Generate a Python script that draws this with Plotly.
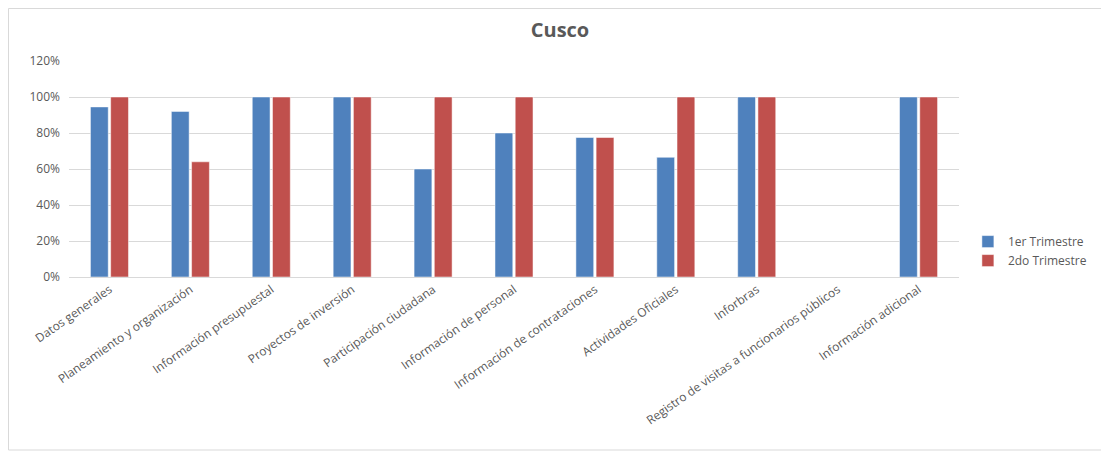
import plotly.graph_objects as go

categories = [
    "Datos generales",
    "Planeamiento y organización",
    "Información presupuestal",
    "Proyectos de inversión",
    "Participación ciudadana",
    "Información de personal",
    "Información de contrataciones",
    "Actividades Oficiales",
    "Inforbras",
    "Registro de visitas a funcionarios públicos",
    "Información adicional",
]
trim1 = [0.945, 0.92, 1.0, 1.0, 0.60, 0.80, 0.775, 0.665, 1.0, 0.0, 1.0]
trim2 = [1.0, 0.64, 1.0, 1.0, 1.0, 1.0, 0.775, 1.0, 1.0, 0.0, 1.0]
series_names = ["1er Trimestre", "2do Trimestre"]
y_ticks = [0, 0.2, 0.4, 0.6, 0.8, 1.0, 1.2]

font_family = "Open Sans, Liberation Sans, sans-serif"
grey = "#595959"

L, R, T, B = 61, 158, 53, 185
PW = 1109 - L - R
PH = 454 - T - B

fig = go.Figure()
fig.add_trace(go.Bar(x=categories, y=trim1, name=series_names[0],
                     marker=dict(color="#4F81BD", line=dict(color="white", width=0.5))))
fig.add_trace(go.Bar(x=categories, y=trim2, name=series_names[1],
                     marker=dict(color="#C0504D", line=dict(color="white", width=0.5))))

fig.update_layout(
    width=1109, height=454,
    margin=dict(l=L, r=R, t=T, b=B),
    paper_bgcolor="white", plot_bgcolor="white",
    barmode="group", bargap=0.5, bargroupgap=0.12,
    font=dict(family=font_family, color=grey, size=12),
    title=dict(text="<b>Cusco</b>", x=(560 - 8) / 1109, xanchor="center", y=1 - 22 / 454, yanchor="middle",
               font=dict(size=20, color=grey, family=font_family)),
    legend=dict(x=1.01, y=0.12, xanchor="left", yanchor="middle",
                font=dict(size=12, color=grey), itemwidth=30, tracegroupgap=6),
    xaxis=dict(tickangle=-35, showgrid=False, showline=True, linecolor="#D9D9D9",
               ticks="", tickfont=dict(size=12, color=grey)),
    yaxis=dict(range=[0, 1.2], tickvals=y_ticks, tickformat=".0%", showgrid=True,
               gridcolor="#D9D9D9", zeroline=False, showline=False, ticks="",
               tickfont=dict(size=12, color=grey), ticklabelstandoff=8),
    shapes=[dict(type="rect", xref="paper", yref="paper",
                 x0=(0.5 - L) / PW, x1=(1095 - L) / PW,
                 y0=(PH + T - 442) / PH, y1=(PH + T - 0.5) / PH,
                 line=dict(color="#D9D9D9", width=1), fillcolor="rgba(0,0,0,0)")],
)

fig.write_html("out.html")
